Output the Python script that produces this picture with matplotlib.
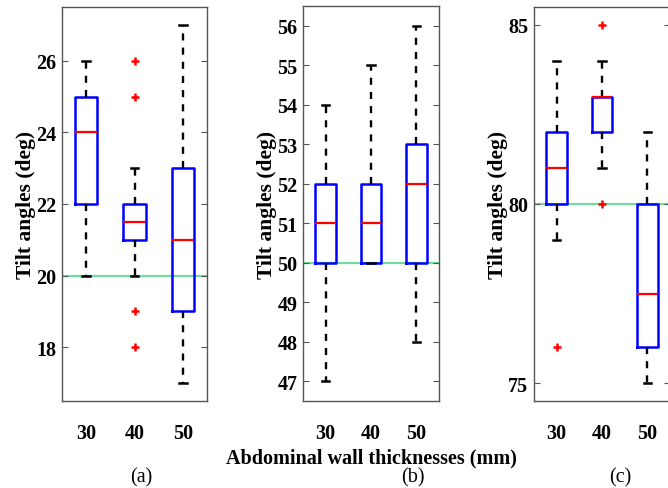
import matplotlib
matplotlib.use("Agg")
import matplotlib.pyplot as plt

# Tilt angle summary per abdominal wall thickness, one panel per angle
thickness_labels = ["30", "40", "50"]

# panel (a)
a_med = [24, 21.5, 21]
a_q1 = [22, 21, 19]
a_q3 = [25, 22, 23]
a_lo = [20, 20, 17]
a_hi = [26, 23, 27]
a_out = [[], [26, 25, 19, 18], []]
a_ref = 20

# panel (b)
b_med = [51, 51, 52]
b_q1 = [50, 50, 50]
b_q3 = [52, 52, 53]
b_lo = [47, 50, 48]
b_hi = [54, 55, 56]
b_out = [[], [], []]
b_ref = 50

# panel (c)
c_med = [81, 83, 77.5]
c_q1 = [80, 82, 76]
c_q3 = [82, 83, 80]
c_lo = [79, 81, 75]
c_hi = [84, 84, 82]
c_out = [[76], [85, 80], []]
c_ref = 80

plt.rcParams["font.family"] = ["Liberation Serif", "DejaVu Serif"]
plt.rcParams["font.size"] = 14.5

W, H = 668, 489
fig = plt.figure(figsize=(W / 100, H / 100), dpi=100)


def px_axes(left, top, right, bottom):
    return fig.add_axes([left / W, 1 - bottom / H, (right - left) / W, (bottom - top) / H])


def draw_panel(ax, med, q1, q3, lo, hi, out, ref, ylim, yticks):
    stats = []
    for i in range(len(med)):
        stats.append(dict(med=med[i], q1=q1[i], q3=q3[i], whislo=lo[i],
                          whishi=hi[i], fliers=out[i], label=thickness_labels[i]))
    ax.axhline(ref, color="#6fdc9c", lw=1.6, zorder=1)
    ax.bxp(stats, positions=[1, 2, 3], widths=0.46, capwidths=0.16,
           showfliers=True,
           boxprops=dict(color="#0000ff", lw=1.8),
           medianprops=dict(color="#ff0000", lw=1.6),
           whiskerprops=dict(color="black", lw=1.7, linestyle=(0, (3, 3))),
           capprops=dict(color="black", lw=1.8),
           flierprops=dict(marker="+", markeredgecolor="#ff0000",
                           markersize=6, markeredgewidth=1.8))
    ax.set_xlim(0.5, 3.5)
    ax.set_ylim(*ylim)
    ax.set_yticks(yticks)
    ax.set_xticks([1, 2, 3])
    ax.set_xticklabels(thickness_labels, fontweight="bold")
    for lab in ax.get_yticklabels():
        lab.set_fontweight("bold")
    ax.tick_params(axis="y", direction="in", left=True, right=True,
                   length=4, width=0.8, color="#555555", pad=4)
    ax.tick_params(axis="x", length=0, pad=16)
    for sp in ax.spines.values():
        sp.set_color("#555555")
        sp.set_linewidth(1.0)
    ax.set_ylabel("Tilt angles (deg)", fontweight="bold", fontsize=15.5, labelpad=0)


ax_a = px_axes(62, 8, 207, 402)
draw_panel(ax_a, a_med, a_q1, a_q3, a_lo, a_hi, a_out, a_ref,
           (16.5, 27.5), [18, 20, 22, 24, 26])

ax_b = px_axes(303, 7, 439, 402)
draw_panel(ax_b, b_med, b_q1, b_q3, b_lo, b_hi, b_out, b_ref,
           (46.5, 56.5), list(range(47, 57)))
ax_b.set_xlabel("Abdominal wall thicknesses (mm)", fontweight="bold", labelpad=3)

ax_c = px_axes(534, 8, 670, 402)
draw_panel(ax_c, c_med, c_q1, c_q3, c_lo, c_hi, c_out, c_ref,
           (74.5, 85.5), [75, 80, 85])

for x, cap in [(141, "(a)"), (413, "(b)"), (620, "(c)")]:
    fig.text(x / W, 1 - 478 / H, cap, ha="center", va="center")

fig.savefig("out.png", dpi=100)
